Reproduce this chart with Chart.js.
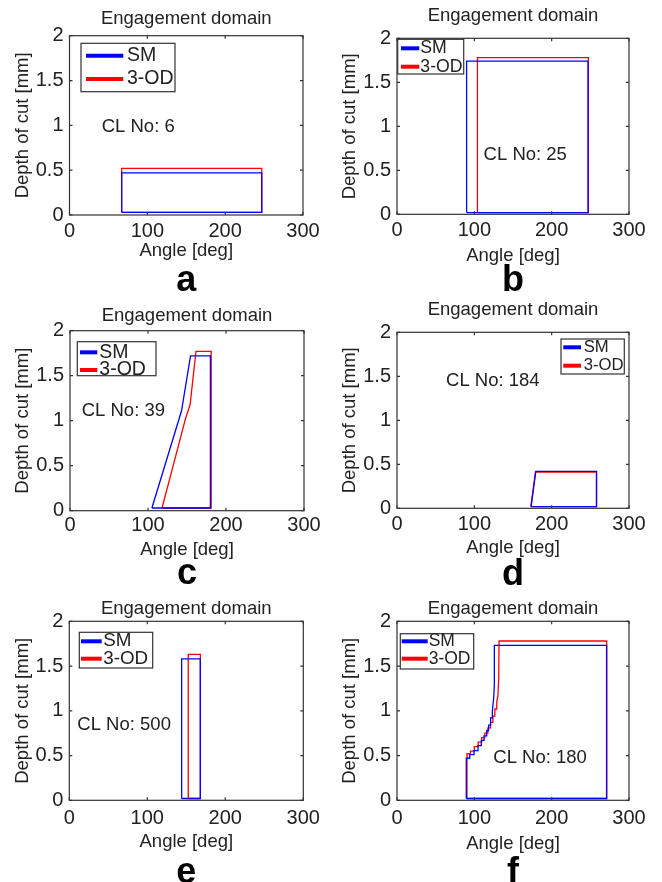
<!DOCTYPE html>
<html>
<head>
<meta charset="utf-8">
<script src="https://cdn.jsdelivr.net/npm/chart.js@4.4.1/dist/chart.umd.min.js"></script>
<style>
  body { margin: 0; background: #fff; }
  #grid { position: relative; width: 662px; height: 882px; }
  #grid canvas { position: absolute; }
</style>
</head>
<body>
<div id="grid">
  <canvas id="cv-a" width="331" height="294" style="left:0;top:0"></canvas>
  <canvas id="cv-b" width="331" height="294" style="left:331px;top:0"></canvas>
  <canvas id="cv-c" width="331" height="294" style="left:0;top:294px"></canvas>
  <canvas id="cv-d" width="331" height="294" style="left:331px;top:294px"></canvas>
  <canvas id="cv-e" width="331" height="294" style="left:0;top:588px"></canvas>
  <canvas id="cv-f" width="331" height="294" style="left:331px;top:588px"></canvas>
</div>
<script>
// ticks
const angleTicks = [0, 100, 200, 300];
const depthTicks = [0, 0.5, 1, 1.5, 2];

// a - CL No: 6
const angleSM_a = [67, 67, 247, 247, 67];
const depthSM_a = [0.03, 0.47, 0.47, 0.03, 0.03];
const angleOD_a = [67, 67, 247, 247, 67];
const depthOD_a = [0.03, 0.52, 0.52, 0.03, 0.03];

// b - CL No: 25
const angleSM_b = [90, 90, 247, 247, 90];
const depthSM_b = [0.02, 1.74, 1.74, 0.02, 0.02];
const angleOD_b = [104, 104, 247.5, 247.5, 104];
const depthOD_b = [0.02, 1.78, 1.78, 0.02, 0.02];

// c - CL No: 39
const angleSM_c = [105, 143, 154.5, 180, 180, 105];
const depthSM_c = [0.03, 1.11, 1.72, 1.72, 0.03, 0.03];
const angleOD_c = [118, 148, 154, 161.5, 181, 181, 118];
const depthOD_c = [0.03, 1.02, 1.18, 1.77, 1.77, 0.03, 0.03];

// d - CL No: 184
const angleSM_d = [173.5, 179.5, 258, 258, 173.5];
const depthSM_d = [0.02, 0.42, 0.42, 0.02, 0.02];
const angleOD_d = [173, 179, 258, 258, 173];
const depthOD_d = [0.02, 0.41, 0.41, 0.02, 0.02];

// e - CL No: 500
const angleSM_e = [144, 144, 168, 168, 144];
const depthSM_e = [0.02, 1.58, 1.58, 0.02, 0.02];
const angleOD_e = [152.5, 152.5, 168, 168, 152.5];
const depthOD_e = [0.02, 1.63, 1.63, 0.02, 0.02];

// f - CL No: 180
const angleSM_f = [89.6, 89.6, 94, 94, 99.6, 99.6, 104.8, 104.8, 109, 109, 112.6, 112.6, 116, 116,
                   118.5, 118.5, 121, 121, 123.3, 123.3, 125, 125.9, 125.9, 271, 271, 89.6];
const depthSM_f = [0.02, 0.47, 0.47, 0.51, 0.51, 0.555, 0.555, 0.61, 0.61, 0.67, 0.67, 0.72, 0.72, 0.78,
                   0.78, 0.84, 0.84, 0.92, 0.92, 1.0, 1.14, 1.29, 1.73, 1.73, 0.02, 0.02];
const angleOD_f = [90.5, 90.5, 95, 95, 100, 100, 105, 105, 109.5, 109.5, 113.5, 113.5, 117.5, 117.5,
                   121, 121, 124, 124, 126.5, 126.5, 129, 129, 130.5, 131.5, 132, 271.2, 271.2, 90.5];
const depthOD_f = [0.02, 0.52, 0.52, 0.55, 0.55, 0.6, 0.6, 0.65, 0.65, 0.7, 0.7, 0.75, 0.75, 0.81,
                   0.81, 0.87, 0.87, 0.94, 0.94, 1.02, 1.02, 1.1, 1.17, 1.35, 1.78, 1.78, 0.02, 0.02];

const BLUE = '#0000ff';
const RED = '#ff0000';
const INK = '#222';
const FAMILY = '"Liberation Sans", Arial, sans-serif';
const MAIN = 18.5;          // title / axis label size
const HALF = MAIN * 1.2 / 2;
const LETTER_HALF = 36 * 0.7 / 2;
const H = 294;

// layout (canvas pixels)
const panels = [
  { canvas: 'cv-a', letter: 'a', cl: 'CL No: 6', sm: [angleSM_a, depthSM_a], od: [angleOD_a, depthOD_a],
    plot: [69.5, 35.7, 303, 215], titleY: 18.8, yTitleX: 23, tickPad: 4.5, xTitleY: 251, letterY: 281,
    note: [41.4, 0.985],
    legend: { box: [81, 43.3, 175, 91.7], sample: [86, 123.3], rows: [55.7, 79], textX: 127, size: 19.5 } },
  { canvas: 'cv-b', letter: 'b', cl: 'CL No: 25', sm: [angleSM_b, depthSM_b], od: [angleOD_b, depthOD_b],
    plot: [66, 38.3, 298, 214.3], titleY: 15.5, yTitleX: 19, tickPad: 4.5, xTitleY: 256, letterY: 281.5,
    note: [112, 0.674],
    legend: { box: [66.7, 39.3, 132.7, 74], sample: [70, 88.3], rows: [48.3, 66.7], textX: 89.3, size: 17.7 } },
  { canvas: 'cv-c', letter: 'c', cl: 'CL No: 39', sm: [angleSM_c, depthSM_c], od: [angleOD_c, depthOD_c],
    plot: [70, 36.7, 304, 216.7], titleY: 22, yTitleX: 23, tickPad: 3, xTitleY: 256, letterY: 280,
    note: [15, 1.11],
    legend: { box: [77.3, 47.7, 156, 81.7], sample: [80, 97.3], rows: [58.3, 76], textX: 99.3, size: 19.5 } },
  { canvas: 'cv-d', letter: 'd', cl: 'CL No: 184', sm: [angleSM_d, depthSM_d], od: [angleOD_d, depthOD_d],
    plot: [66, 38.3, 298, 214.3], titleY: 15.5, yTitleX: 19, tickPad: 4.5, xTitleY: 254, letterY: 281.5,
    note: [63.4, 1.443],
    legend: { box: [230, 45, 293.3, 80], sample: [232.3, 250], rows: [53.3, 71.7], textX: 252.7, size: 16.7 } },
  { canvas: 'cv-e', letter: 'e', cl: 'CL No: 500', sm: [angleSM_e, depthSM_e], od: [angleOD_e, depthOD_e],
    plot: [69.3, 33.3, 303.3, 212.3], titleY: 20.5, yTitleX: 23, tickPad: 6, xTitleY: 254, letterY: 285,
    note: [10.3, 0.845],
    legend: { box: [79.3, 44.3, 152.7, 80], sample: [81, 101.7], rows: [53.3, 70.7], textX: 103.3, size: 18.8 } },
  { canvas: 'cv-f', letter: 'f', cl: 'CL No: 180', sm: [angleSM_f, depthSM_f], od: [angleOD_f, depthOD_f],
    plot: [66, 33.3, 298, 212.3], titleY: 20.5, yTitleX: 19, tickPad: 6, xTitleY: 256, letterY: 285.5,
    note: [124.5, 0.473],
    legend: { box: [69.3, 45.7, 142.7, 81], sample: [70.7, 96.7], rows: [53.3, 70.7], textX: 97.7, size: 17.5 } }
];

function toPoints(xs, ys) {
  return xs.map((x, i) => ({ x: x, y: ys[i] }));
}

function series(label, pair, color) {
  return {
    label: label,
    data: toPoints(pair[0], pair[1]),
    showLine: true,
    borderColor: color,
    borderWidth: 1.3,
    pointRadius: 0,
    tension: 0,
    fill: false
  };
}

// box round the axes with small inward ticks, matlab style
const framePlugin = {
  id: 'frame',
  afterDatasetsDraw(chart) {
    const { ctx, chartArea: a } = chart;
    const sx = chart.scales.x, sy = chart.scales.y;
    ctx.save();
    ctx.strokeStyle = '#333';
    ctx.lineWidth = 1.2;
    ctx.strokeRect(a.left, a.top, a.right - a.left, a.bottom - a.top);
    ctx.beginPath();
    angleTicks.forEach(v => {
      const px = sx.getPixelForValue(v);
      ctx.moveTo(px, a.bottom); ctx.lineTo(px, a.bottom - 3);
      ctx.moveTo(px, a.top); ctx.lineTo(px, a.top + 3);
    });
    depthTicks.forEach(v => {
      const py = sy.getPixelForValue(v);
      ctx.moveTo(a.left, py); ctx.lineTo(a.left + 3, py);
      ctx.moveTo(a.right, py); ctx.lineTo(a.right - 3, py);
    });
    ctx.stroke();
    ctx.restore();
  }
};

function makeDecor(p) {
  return {
    id: 'decor',
    afterDraw(chart) {
      const ctx = chart.ctx;
      const L = p.legend;
      ctx.save();
      // CL number
      ctx.fillStyle = INK;
      ctx.font = MAIN + 'px ' + FAMILY;
      ctx.textAlign = 'left';
      ctx.textBaseline = 'middle';
      ctx.fillText(p.cl, chart.scales.x.getPixelForValue(p.note[0]), chart.scales.y.getPixelForValue(p.note[1]));
      // legend box
      ctx.fillStyle = '#fff';
      ctx.fillRect(L.box[0], L.box[1], L.box[2] - L.box[0], L.box[3] - L.box[1]);
      ctx.strokeStyle = '#333';
      ctx.lineWidth = 1.2;
      ctx.strokeRect(L.box[0], L.box[1], L.box[2] - L.box[0], L.box[3] - L.box[1]);
      [['SM', BLUE], ['3-OD', RED]].forEach((e, i) => {
        const yy = L.rows[i];
        ctx.strokeStyle = e[1];
        ctx.lineWidth = 4;
        ctx.beginPath();
        ctx.moveTo(L.sample[0], yy);
        ctx.lineTo(L.sample[1], yy);
        ctx.stroke();
        ctx.fillStyle = INK;
        ctx.font = L.size + 'px ' + FAMILY;
        ctx.fillText(e[0], L.textX, yy);
      });
      ctx.restore();
    }
  };
}

function buildPanel(p) {
  const [pl, pt, pr, pb] = p.plot;
  const padLeft = p.yTitleX - HALF;
  const letterTop = p.letterY - LETTER_HALF;
  const mainFont = { family: FAMILY, size: MAIN, weight: 'normal' };
  const tickFont = { family: FAMILY, size: 20, weight: 'normal' };

  new Chart(document.getElementById(p.canvas), {
    type: 'scatter',
    data: {
      datasets: [series('SM', p.sm, BLUE), series('3-OD', p.od, RED)]
    },
    options: {
      responsive: false,
      animation: false,
      devicePixelRatio: 1,
      layout: { padding: { left: padLeft, right: 331 - pr, top: 0, bottom: 0 } },
      plugins: {
        legend: { display: false },
        tooltip: { enabled: false },
        title: {
          display: true, fullSize: false, text: 'Engagement domain', color: INK, font: mainFont,
          padding: { top: p.titleY - HALF, bottom: pt - p.titleY - HALF }
        },
        subtitle: {
          display: true, fullSize: false, position: 'bottom', text: p.letter, color: '#000',
          font: { family: FAMILY, size: 36, weight: 'bold', lineHeight: 0.7 },
          padding: { top: 0, bottom: H - p.letterY - LETTER_HALF }
        }
      },
      scales: {
        x: {
          type: 'linear', min: 0, max: 300,
          grid: { display: false, drawTicks: false },
          border: { display: false },
          ticks: { stepSize: 100, padding: p.tickPad, color: INK, font: tickFont, callback: v => String(v) },
          title: {
            display: true, text: 'Angle [deg]', color: INK, font: mainFont,
            padding: { top: 0, bottom: letterTop - p.xTitleY - HALF }
          },
          afterFit: s => { s.height = letterTop - pb; }
        },
        y: {
          type: 'linear', min: 0, max: 2,
          grid: { display: false, drawTicks: false },
          border: { display: false },
          ticks: { stepSize: 0.5, padding: 6, color: INK, font: tickFont, callback: v => String(v) },
          title: {
            display: true, text: 'Depth of cut [mm]', color: INK, font: mainFont,
            padding: { top: 0, bottom: 0 }
          },
          afterFit: s => { s.width = pl - padLeft; }
        }
      }
    },
    plugins: [framePlugin, makeDecor(p)]
  });
}

panels.forEach(buildPanel);
</script>
</body>
</html>
